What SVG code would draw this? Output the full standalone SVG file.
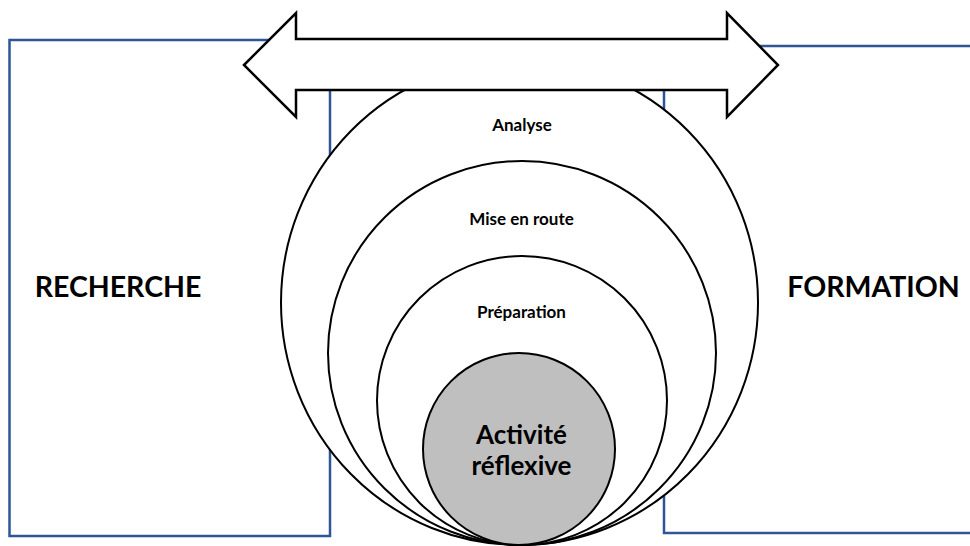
<svg xmlns="http://www.w3.org/2000/svg" width="970" height="546" viewBox="0 0 970 546">
<style>
.rect{fill:#ffffff;stroke:#2f5597;stroke-width:2.5}
.ring{fill:#ffffff;stroke:#000000;stroke-width:2}
.core{fill:#bfbfbf;stroke:#000000;stroke-width:2}
.arrow{fill:#ffffff;stroke:#000000;stroke-width:2.5;stroke-linejoin:miter}
text{font-family:Lato,"Open Sans","Liberation Sans",sans-serif;font-weight:bold;fill:#000000;text-anchor:middle}
.small{font-size:17px}
.big{font-size:26px}
.side{font-size:28.5px}
</style>
<rect width="970" height="546" fill="#ffffff"/>
<g id="recherche">
<rect class="rect" x="9.5" y="40" width="320.5" height="496"/>
<text class="side" x="118" y="297">RECHERCHE</text>
</g>
<g id="formation">
<rect class="rect" x="664" y="46" width="320" height="487"/>
<text class="side" x="873.5" y="297">FORMATION</text>
</g>
<g id="analyse">
<ellipse class="ring" cx="519.5" cy="302.5" rx="238.5" ry="242.5"/>
<text class="small" x="522" y="131">Analyse</text>
</g>
<g id="mise-en-route">
<ellipse class="ring" cx="522" cy="353" rx="194" ry="192"/>
<text class="small" x="521.5" y="225">Mise en route</text>
</g>
<g id="preparation">
<ellipse class="ring" cx="522" cy="400.5" rx="145" ry="144.5"/>
<text class="small" x="521.5" y="318">Préparation</text>
</g>
<g id="activite-reflexive">
<circle class="core" cx="519" cy="449" r="96"/>
<text class="big" x="521.5" y="444">Activité</text>
<text class="big" x="521.5" y="475">réflexive</text>
</g>
<g id="connectors">
<polygon class="arrow" points="244,65 296,13 296,39 727,39 727,13 778,65 727,117 727,90 296,90 296,117"/>
</g>
</svg>
